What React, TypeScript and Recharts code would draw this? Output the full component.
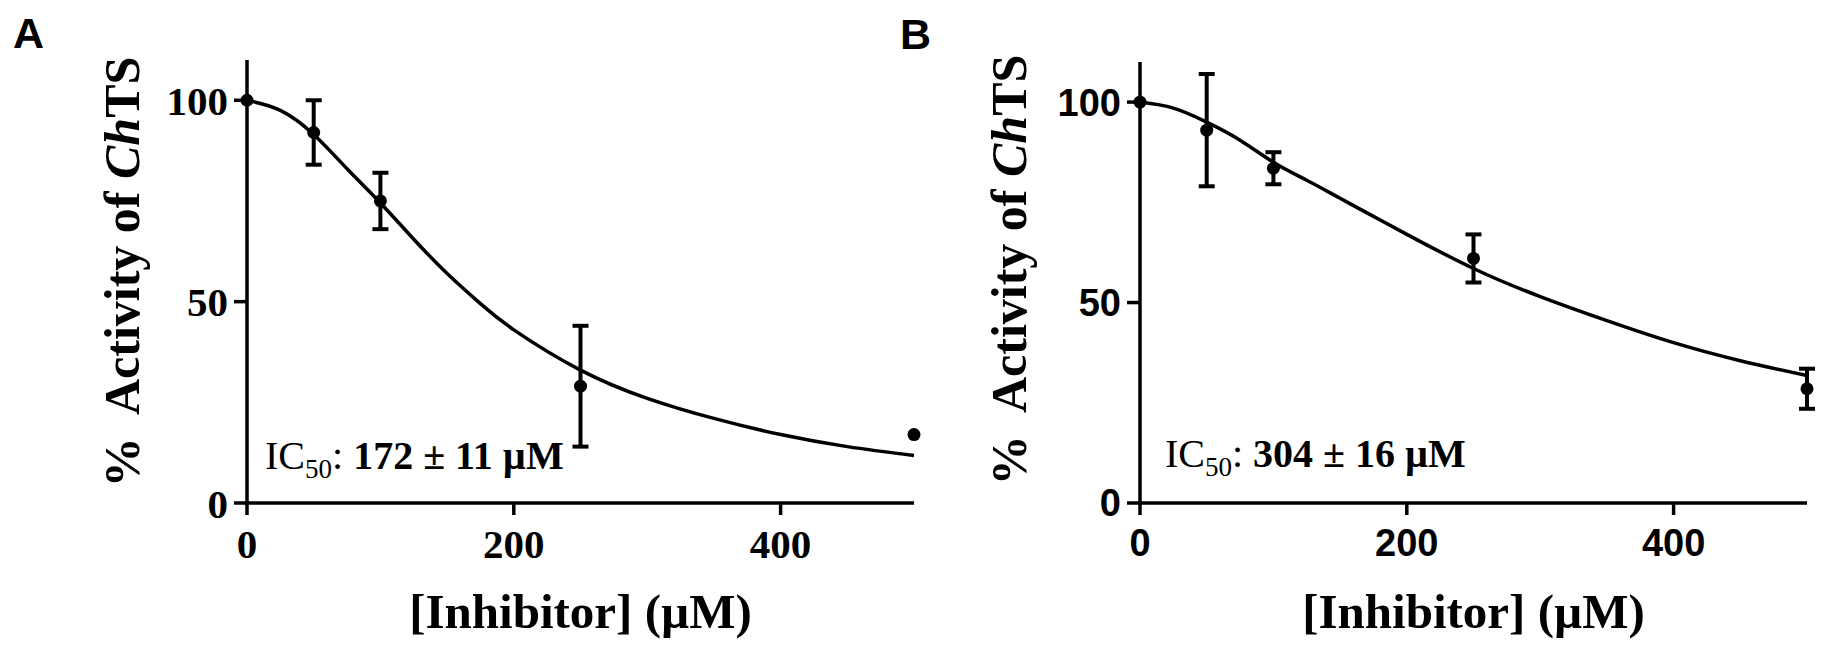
import React from "react";
import {
  ComposedChart,
  Line,
  Scatter,
  ErrorBar,
  XAxis,
  YAxis,
  ReferenceDot,
} from "recharts";

// measured points (mean ± SD)
const conc = [0, 50, 100, 250, 500];
const meanA = [100, 92, 75, 29, 17];
const sdA = [0, 8, 7, 15, 0];
const meanB = [100, 93, 83.5, 61, 28.5];
const sdB = [0, 14, 4, 6, 5];

// fitted curves
const fitX = [0, 25, 50, 75, 100, 125, 150, 175, 200, 250, 300, 350, 400, 450, 500];
const fitA = [100, 97.5, 91.5, 83, 74.5, 65.5, 57, 49.5, 43, 33, 26, 21, 17, 14, 11.8];
const fitB = [100, 98.5, 95, 90.5, 85, 80.5, 76, 71.5, 67, 58.5, 51.5, 45.5, 40, 35.5, 31.8];

const xTicks = [0, 200, 400];
const yTicks = [0, 50, 100];

const SERIF = "'Liberation Serif', 'Times New Roman', serif";
const SANS = "'Liberation Sans', Arial, sans-serif";

const dot = (p: any) => <circle cx={p.cx} cy={p.cy} r={6.5} fill="#000" />;

interface PanelProps {
  left: number;
  width: number;
  margin: { top: number; right: number; bottom: number; left: number };
  mean: number[];
  sd: number[];
  fit: number[];
  tickFont: string;
  tickSize: number;
  ic50: string;
  icAt: [number, number];
  yLabelX: number;
  yLabelY: number;
}

function Panel(p: PanelProps) {
  const pts = conc.map((x, i) => ({ x, y: p.mean[i], err: p.sd[i] }));
  const withErr = pts.filter((d) => d.err > 0);
  const noErr = pts.filter((d) => d.err === 0);
  const curve = fitX.map((x, i) => ({ x, y: p.fit[i] }));
  const tick = {
    fill: "#000",
    fontSize: p.tickSize,
    fontFamily: p.tickFont,
    fontWeight: "bold",
  };
  const axisLine = { stroke: "#000", strokeWidth: 3.5 };

  return (
    <div style={{ position: "absolute", left: p.left, top: 0 }}>
      <ComposedChart width={p.width} height={647} margin={p.margin}>
        <XAxis
          type="number"
          dataKey="x"
          domain={[0, 500]}
          ticks={xTicks}
          height={60}
          tick={tick}
          tickSize={12}
          tickMargin={14}
          axisLine={axisLine}
          tickLine={axisLine}
          label={{
            content: (lp: any) => {
              const vb = lp.viewBox || {};
              return (
                <text
                  x={vb.x + vb.width / 2}
                  y={628}
                  textAnchor="middle"
                  fontFamily={SERIF}
                  fontWeight="bold"
                  fontSize={49}
                  fill="#000"
                >
                  [Inhibitor] (µM)
                </text>
              );
            },
          }}
        />
        <YAxis
          type="number"
          domain={[0, 110]}
          ticks={yTicks}
          width={80}
          tick={tick}
          tickSize={13}
          tickMargin={6}
          axisLine={axisLine}
          tickLine={axisLine}
          label={{
            content: () => (
              <text
                transform={`translate(${p.yLabelX}, ${p.yLabelY}) rotate(-90)`}
                textAnchor="middle"
                fontFamily={SERIF}
                fontWeight="bold"
                fontSize={50}
                fill="#000"
              >
                {"%\u00a0 Activity of "}
                <tspan fontStyle="italic">Ch</tspan>
                TS
              </text>
            ),
          }}
        />
        <Line
          data={curve}
          dataKey="y"
          type="natural"
          stroke="#000"
          strokeWidth={3.5}
          dot={false}
          activeDot={false}
          isAnimationActive={false}
        />
        <Scatter data={withErr} dataKey="y" shape={dot} isAnimationActive={false}>
          <ErrorBar
            dataKey="err"
            direction="y"
            width={8}
            stroke="#000"
            strokeWidth={4}
            isAnimationActive={false}
          />
        </Scatter>
        <Scatter data={noErr} dataKey="y" shape={dot} isAnimationActive={false} />
        <ReferenceDot
          x={p.icAt[0]}
          y={p.icAt[1]}
          r={0}
          stroke="none"
          fill="none"
          label={{
            content: (lp: any) => {
              const vb = lp.viewBox || {};
              return (
                <text
                  x={vb.x}
                  y={vb.y}
                  fontFamily={SERIF}
                  fontSize={40}
                  fill="#000"
                >
                  IC
                  <tspan fontSize={27} dy={9}>
                    50
                  </tspan>
                  <tspan dy={-9}>: </tspan>
                  <tspan fontWeight="bold">{p.ic50}</tspan>
                </text>
              );
            },
          }}
        />
      </ComposedChart>
    </div>
  );
}

export default function App() {
  return (
    <div
      style={{
        position: "absolute",
        left: 0,
        top: 0,
        width: 1826,
        height: 647,
        background: "#fff",
        overflow: "hidden",
      }}
    >
      <Panel
        left={0}
        width={930}
        margin={{ top: 60, right: 16, bottom: 84, left: 167 }}
        mean={meanA}
        sd={sdA}
        fit={fitA}
        tickFont={SERIF}
        tickSize={41}
        ic50="172 ± 11 µM"
        icAt={[13.5, 8.4]}
        yLabelX={139}
        yLabelY={272}
      />
      <Panel
        left={913}
        width={913}
        margin={{ top: 62, right: 19, bottom: 84, left: 147 }}
        mean={meanB}
        sd={sdB}
        fit={fitB}
        tickFont={SANS}
        tickSize={38}
        ic50="304 ± 16 µM"
        icAt={[18.7, 9]}
        yLabelX={113}
        yLabelY={270}
      />
      <svg
        width={1826}
        height={647}
        style={{ position: "absolute", left: 0, top: 0, pointerEvents: "none" }}
      >
        <text x={13} y={48} fontFamily={SANS} fontWeight="bold" fontSize={43} fill="#000">
          A
        </text>
        <text x={900} y={49} fontFamily={SANS} fontWeight="bold" fontSize={43} fill="#000">
          B
        </text>
      </svg>
    </div>
  );
}
